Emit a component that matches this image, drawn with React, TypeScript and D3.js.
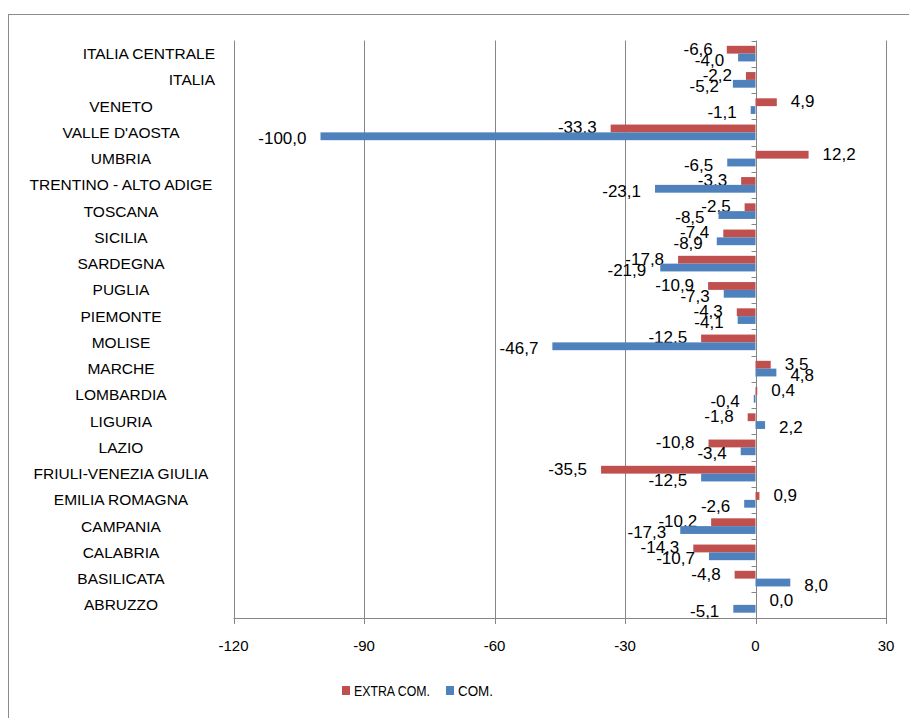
import { useEffect, useRef } from "react";
import { select, scaleLinear, scaleBand } from "d3";

// categories, top to bottom as drawn
const categories = [
  "ITALIA CENTRALE",
  "ITALIA",
  "VENETO",
  "VALLE D'AOSTA",
  "UMBRIA",
  "TRENTINO - ALTO ADIGE",
  "TOSCANA",
  "SICILIA",
  "SARDEGNA",
  "PUGLIA",
  "PIEMONTE",
  "MOLISE",
  "MARCHE",
  "LOMBARDIA",
  "LIGURIA",
  "LAZIO",
  "FRIULI-VENEZIA GIULIA",
  "EMILIA ROMAGNA",
  "CAMPANIA",
  "CALABRIA",
  "BASILICATA",
  "ABRUZZO",
];

const extraCom = [
  -6.6, -2.2, 4.9, -33.3, 12.2, -3.3, -2.5, -7.4, -17.8, -10.9, -4.3, -12.5,
  3.5, 0.4, -1.8, -10.8, -35.5, 0.9, -10.2, -14.3, -4.8, 0.0,
];

const com = [
  -4.0, -5.2, -1.1, -100.0, -6.5, -23.1, -8.5, -8.9, -21.9, -7.3, -4.1, -46.7,
  4.8, -0.4, 2.2, -3.4, -12.5, -2.6, -17.3, -10.7, 8.0, -5.1,
];

const seriesNames = ["EXTRA COM.", "COM."];
const xTicks = [-120, -90, -60, -30, 0, 30];

// labels that Excel pushed to the right edge
const rightAligned = ["ITALIA CENTRALE", "ITALIA"];

const width = 909;
const height = 718;
const plot = { left: 233.5, right: 886, top: 40.5, bottom: 618 };
const colors = ["#C0504D", "#4F81BD"];
const gridColor = "#868686";
const font = "'Liberation Sans', Arial, sans-serif";

const fmt = (v: number) => v.toFixed(1).replace(".", ",");

export default function App() {
  const ref = useRef<SVGSVGElement>(null);

  useEffect(() => {
    if (!ref.current) return;
    const svg = select(ref.current);
    svg.selectAll("*").remove();

    const x = scaleLinear().domain([-120, 30]).range([plot.left, plot.right]);
    const y = scaleBand<string>()
      .domain(categories)
      .range([plot.top, plot.bottom])
      .paddingInner(0)
      .paddingOuter(0);
    const inner = scaleBand<string>()
      .domain(seriesNames)
      .range([0, y.bandwidth()])
      .paddingInner(0)
      .paddingOuter(0.68);

    // chart border
    svg
      .append("rect")
      .attr("x", 8.5)
      .attr("y", 14.5)
      .attr("width", 920)
      .attr("height", 720)
      .attr("fill", "none")
      .attr("stroke", "#8c8c8c")
      .attr("stroke-width", 1);

    // vertical gridlines
    svg
      .append("g")
      .selectAll("line")
      .data(xTicks)
      .enter()
      .append("line")
      .attr("x1", (d) => Math.round(x(d)) + 0.5)
      .attr("x2", (d) => Math.round(x(d)) + 0.5)
      .attr("y1", plot.top)
      .attr("y2", plot.bottom)
      .attr("stroke", gridColor)
      .attr("stroke-width", 1);

    // x axis line + ticks + labels
    const xAxis = svg.append("g");
    xAxis
      .append("line")
      .attr("x1", x(-120))
      .attr("x2", x(30))
      .attr("y1", plot.bottom + 0.5)
      .attr("y2", plot.bottom + 0.5)
      .attr("stroke", gridColor);
    xAxis
      .selectAll(".tick")
      .data(xTicks)
      .enter()
      .append("line")
      .attr("x1", (d) => Math.round(x(d)) + 0.5)
      .attr("x2", (d) => Math.round(x(d)) + 0.5)
      .attr("y1", plot.bottom)
      .attr("y2", plot.bottom + 6)
      .attr("stroke", gridColor);
    xAxis
      .selectAll("text")
      .data(xTicks)
      .enter()
      .append("text")
      .attr("x", (d) => x(d))
      .attr("y", 645)
      .attr("text-anchor", "middle")
      .attr("dominant-baseline", "central")
      .attr("font-family", font)
      .attr("font-size", "15px")
      .attr("fill", "#000")
      .text((d) => String(d));

    // category axis at zero: small ticks to the left at band edges
    const x0 = Math.round(x(0)) + 0.5;
    const edges = categories.map((c) => y(c) as number).concat([plot.bottom]);
    svg
      .append("g")
      .selectAll("line")
      .data(edges)
      .enter()
      .append("line")
      .attr("x1", x0 - 5)
      .attr("x2", x0)
      .attr("y1", (d) => Math.round(d) + 0.5)
      .attr("y2", (d) => Math.round(d) + 0.5)
      .attr("stroke", gridColor);

    // category labels
    svg
      .append("g")
      .selectAll("text")
      .data(categories)
      .enter()
      .append("text")
      .attr("x", (d) => (rightAligned.includes(d) ? 215 : 121))
      .attr("y", (d) => (y(d) as number) + y.bandwidth() / 2)
      .attr("text-anchor", (d) => (rightAligned.includes(d) ? "end" : "middle"))
      .attr("dominant-baseline", "central")
      .attr("font-family", font)
      .attr("font-size", "15.5px")
      .attr("fill", "#000")
      .text((d) => d);

    // bars + value labels
    const seriesValues = [extraCom, com];
    const labelShift = [-0.5, 2.5];
    seriesValues.forEach((values, si) => {
      const name = seriesNames[si];
      const rows = categories.map((c, i) => ({ c, v: values[i] }));
      const g = svg.append("g");
      g.selectAll("rect")
        .data(rows)
        .enter()
        .append("rect")
        .attr("x", (d) => x(Math.min(0, d.v)))
        .attr("y", (d) => (y(d.c) as number) + (inner(name) as number))
        .attr("width", (d) => Math.abs(x(d.v) - x(0)))
        .attr("height", inner.bandwidth())
        .attr("fill", colors[si]);
      g.selectAll("text")
        .data(rows)
        .enter()
        .append("text")
        .attr("x", (d) => (d.v >= 0 ? x(d.v) + 14 : x(d.v) - 14))
        .attr(
          "y",
          (d) =>
            (y(d.c) as number) +
            (inner(name) as number) +
            inner.bandwidth() / 2 +
            labelShift[si]
        )
        .attr("text-anchor", (d) => (d.v >= 0 ? "start" : "end"))
        .attr("dominant-baseline", "central")
        .attr("font-family", font)
        .attr("font-size", "17px")
        .attr("fill", "#000")
        .text((d) => fmt(d.v));
    });

    // legend
    const legendX = [342, 446];
    const legendW = [76, 35];
    const legend = svg.append("g");
    seriesNames.forEach((name, i) => {
      legend
        .append("rect")
        .attr("x", legendX[i])
        .attr("y", 686)
        .attr("width", 8)
        .attr("height", 9)
        .attr("fill", colors[i]);
      legend
        .append("text")
        .attr("x", legendX[i] + 12)
        .attr("y", 690.5)
        .attr("dominant-baseline", "central")
        .attr("font-family", font)
        .attr("font-size", "15px")
        .attr("textLength", legendW[i])
        .attr("lengthAdjust", "spacingAndGlyphs")
        .attr("fill", "#000")
        .text(name);
    });
  }, []);

  return (
    <svg
      ref={ref}
      width={width}
      height={height}
      style={{ position: "absolute", left: 0, top: 0, background: "#fff" }}
    ></svg>
  );
}
